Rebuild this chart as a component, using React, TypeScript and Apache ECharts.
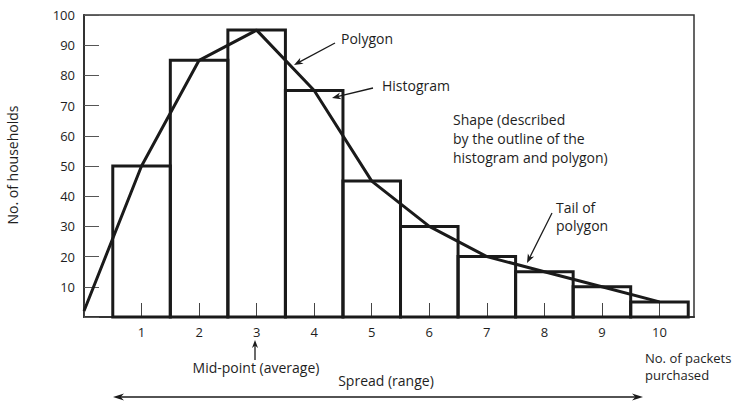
import React, { useEffect, useRef } from "react";
import * as echarts from "echarts";

const packets = [1, 2, 3, 4, 5, 6, 7, 8, 9, 10];
const households = [50, 85, 95, 75, 45, 30, 20, 15, 10, 5];
const polygonX = [0, 1, 2, 3, 4, 5, 6, 7, 8, 9, 10];
const polygonY = [2, 50, 85, 95, 75, 45, 30, 20, 15, 10, 5];

const FONT = "Open Sans";
const INK = "#1a1a1a";
const TXT = "#1e1e1e";

function arrow(x1: number, y1: number, x2: number, y2: number, len = 9, half = 3.5, w = 1.3): any[] {
  const dx = x2 - x1, dy = y2 - y1;
  const d = Math.hypot(dx, dy);
  const ux = dx / d, uy = dy / d;
  const bx = x2 - ux * len, by = y2 - uy * len;
  const px = -uy, py = ux;
  return [
    { type: "line", shape: { x1, y1, x2: x2 - ux * len * 0.6, y2: y2 - uy * len * 0.6 }, style: { stroke: INK, lineWidth: w }, silent: true },
    {
      type: "polygon",
      shape: { points: [[x2, y2], [bx + px * half, by + py * half], [x2 - ux * len * 0.7, y2 - uy * len * 0.7], [bx - px * half, by - py * half]] },
      style: { fill: INK },
      silent: true,
    },
  ];
}

function txt(x: number, y: number, s: string, align = "left", extra: any = {}): any {
  return {
    type: "text",
    x,
    y,
    style: { text: s, fill: TXT, font: `14px "${FONT}"`, align, verticalAlign: "middle", lineHeight: 19, ...extra },
    silent: true,
  };
}

export default function App() {
  const ref = useRef<HTMLDivElement>(null);
  useEffect(() => {
    if (!ref.current) return;
    const chart = echarts.init(ref.current, null, { renderer: "svg" });
    const graphics: any[] = [
      ...arrow(335, 43, 294, 65),
      ...arrow(373, 88, 332, 98),
      ...arrow(552, 213, 527, 263),
      ...arrow(255, 360, 255, 340, 8, 3),
      ...arrow(378, 397, 643, 397, 11, 3.5, 1.4),
      ...arrow(378, 397, 113, 397, 11, 3.5, 1.4),
      txt(341, 38, "Polygon"),
      txt(382, 85, "Histogram"),
      txt(453, 138, "Shape (described\nby the outline of the\nhistogram and polygon)"),
      txt(556, 216, "Tail of\npolygon", "left", { lineHeight: 18 }),
      txt(256, 367, "Mid-point (average)", "center"),
      txt(386, 380, "Spread (range)", "center"),
      txt(645, 366, "No. of packets\npurchased", "left", { lineHeight: 17, font: `13px "${FONT}"` }),
      {
        type: "text",
        x: 12,
        y: 165,
        rotation: Math.PI / 2,
        style: { text: "No. of households", fill: TXT, font: `14px "${FONT}"`, align: "center", verticalAlign: "middle" },
        silent: true,
      },
    ];
    chart.setOption({
      animation: false,
      backgroundColor: "#fff",
      grid: { left: 84, right: 41, top: 15, bottom: 84, show: true, borderColor: "#333", borderWidth: 1.5 },
      xAxis: {
        type: "value",
        min: 0,
        max: 10.6,
        interval: 1,
        splitLine: { show: false },
        axisLine: { show: true, lineStyle: { color: "#333", width: 2 } },
        axisTick: { show: true, inside: true, length: 14, lineStyle: { color: "#444", width: 1 } },
        axisLabel: {
          color: TXT,
          fontFamily: FONT,
          fontSize: 13,
          margin: 8,
          showMaxLabel: false,
          formatter: (v: number) => (v > 0 && Number.isInteger(v) && packets.includes(v) ? String(v) : ""),
        },
      },
      yAxis: {
        type: "value",
        min: 0,
        max: 100,
        interval: 10,
        splitLine: { show: false },
        axisLine: { show: true, lineStyle: { color: "#333", width: 2 } },
        axisTick: { show: true, inside: true, length: 15, lineStyle: { color: "#555", width: 1 } },
        axisLabel: {
          color: TXT,
          fontFamily: FONT,
          fontSize: 13,
          margin: 9,
          formatter: (v: number) => (v === 0 ? "" : String(v)),
        },
      },
      series: [
        {
          type: "custom",
          z: 2,
          data: packets.map((p, i) => [p, households[i]]),
          renderItem: (params: any, api: any) => {
            const x = api.value(0);
            const y = api.value(1);
            const p0 = api.coord([x - 0.5, y]);
            const p1 = api.coord([x + 0.5, 0]);
            return {
              type: "rect",
              shape: { x: p0[0], y: p0[1], width: p1[0] - p0[0], height: p1[1] - p0[1] },
              style: { fill: "none", stroke: INK, lineWidth: 3 },
            };
          },
        },
        {
          type: "line",
          z: 3,
          showSymbol: false,
          data: polygonX.map((x, i) => [x, polygonY[i]]),
          lineStyle: { color: INK, width: 3 },
        },
      ],
      graphic: { elements: graphics },
    });
    return () => chart.dispose();
  }, []);
  return <div ref={ref} style={{ position: "fixed", left: 0, top: 0, width: 735, height: 401 }} />;
}
